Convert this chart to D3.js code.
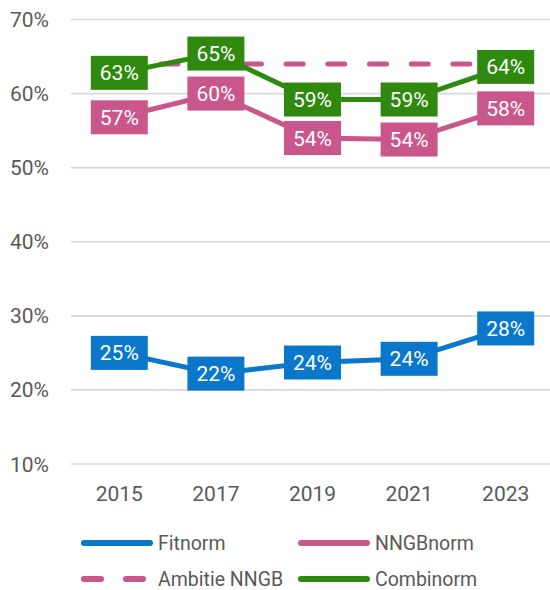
<!DOCTYPE html>
<html>
<head>
<meta charset="utf-8">
<script src="https://cdn.jsdelivr.net/npm/d3@7"></script>
<style>
  body { margin: 0; background: #fff; }
  svg text { font-family: Roboto, "Liberation Sans", sans-serif; }
</style>
</head>
<body>
<div id="wrapper"></div>
<script>
// data
const years = ["2015", "2017", "2019", "2021", "2023"]
const fitnorm = [25.0, 22.2, 23.7, 24.2, 28.3]
const nngbnorm = [56.8, 60.0, 54.0, 53.8, 58.0]
const combinorm = [62.8, 65.4, 59.2, 59.2, 63.6]
const ambitie = [64, 64, 64, 64, 64]
const yTicks = [10, 20, 30, 40, 50, 60, 70]

const series = [
  { name: "Ambitie NNGB", values: ambitie, color: "#c9578b", dashed: true, labels: false },
  { name: "Fitnorm", values: fitnorm, color: "#0a77cb", labels: true },
  { name: "NNGBnorm", values: nngbnorm, color: "#c9578b", labels: true },
  { name: "Combinorm", values: combinorm, color: "#2f890f", labels: true },
]
const legendOrder = ["Fitnorm", "NNGBnorm", "Ambitie NNGB", "Combinorm"]

// dimensions
const dimensions = {
  width: 550,
  height: 590,
  margin: { top: 19.5, right: 0, bottom: 126, left: 71 }
}

const svg = d3.select("#wrapper")
  .append("svg")
    .attr("width", dimensions.width)
    .attr("height", dimensions.height)

// scales
const xScale = d3.scalePoint()
  .domain(years)
  .range([dimensions.margin.left, 554])
  .padding(0.5)

const yScale = d3.scaleLinear()
  .domain([10, 70])
  .range([dimensions.height - dimensions.margin.bottom, dimensions.margin.top])

// gridlines + y labels
const grid = svg.append("g")
grid.selectAll("line")
  .data(yTicks)
  .join("line")
    .attr("x1", dimensions.margin.left)
    .attr("x2", dimensions.width)
    .attr("y1", d => yScale(d))
    .attr("y2", d => yScale(d))
    .attr("stroke", "#d9d9d9")
    .attr("stroke-width", 1.6)

grid.selectAll("text")
  .data(yTicks)
  .join("text")
    .attr("x", 49)
    .attr("y", d => yScale(d))
    .attr("dy", "0.36em")
    .attr("text-anchor", "end")
    .attr("fill", "#595959")
    .style("font-size", "21px")
    .text(d => d + "%")

// x labels
svg.append("g").selectAll("text")
  .data(years)
  .join("text")
    .attr("x", d => xScale(d))
    .attr("y", 500.5)
    .attr("text-anchor", "middle")
    .attr("fill", "#595959")
    .style("font-size", "21px")
    .text(d => d)

// lines
const lineGen = d3.line()
  .x((d, i) => xScale(years[i]))
  .y(d => yScale(d))

svg.append("g").selectAll("path")
  .data(series)
  .join("path")
    .attr("d", d => lineGen(d.values))
    .attr("fill", "none")
    .attr("stroke", d => d.color)
    .attr("stroke-width", 5)
    .attr("stroke-linecap", d => d.dashed ? "round" : "butt")
    .attr("stroke-dasharray", d => d.dashed ? "17 24.7" : null)

// data labels
const labelData = series.filter(s => s.labels)
  .flatMap(s => s.values.map((v, i) => ({ v, year: years[i], color: s.color })))

const labels = svg.append("g").selectAll("g")
  .data(labelData)
  .join("g")
    .attr("transform", d => `translate(${xScale(d.year)},${yScale(d.v)})`)

const labelRects = labels.append("rect")
    .attr("fill", d => d.color)

const labelTexts = labels.append("text")
    .attr("text-anchor", "middle")
    .attr("dy", "0.36em")
    .attr("fill", "#fff")
    .style("font-size", "21px")
    .text(d => Math.round(d.v) + "%")

labelTexts.each(function (d) { d.w = this.getComputedTextLength() })
labelRects
    .attr("x", d => -(d.w + 18) / 2)
    .attr("y", -17)
    .attr("width", d => d.w + 18)
    .attr("height", 34)

// legend
const legendPos = [
  { x: 81, y: 543 }, { x: 298, y: 543 },
  { x: 81, y: 579 }, { x: 298, y: 579 }
]
const legend = svg.append("g").selectAll("g")
  .data(legendOrder.map(n => series.find(s => s.name === n)))
  .join("g")
    .attr("transform", (d, i) => `translate(${legendPos[i].x},${legendPos[i].y})`)

legend.append("line")
    .attr("x1", 3)
    .attr("x2", 69)
    .attr("stroke", d => d.color)
    .attr("stroke-width", 6)
    .attr("stroke-linecap", "round")
    .attr("stroke-dasharray", d => d.dashed ? "17 25" : null)

legend.append("text")
    .attr("x", 77)
    .attr("dy", "0.36em")
    .attr("fill", "#595959")
    .style("font-size", "19.5px")
    .text(d => d.name)
</script>
</body>
</html>
